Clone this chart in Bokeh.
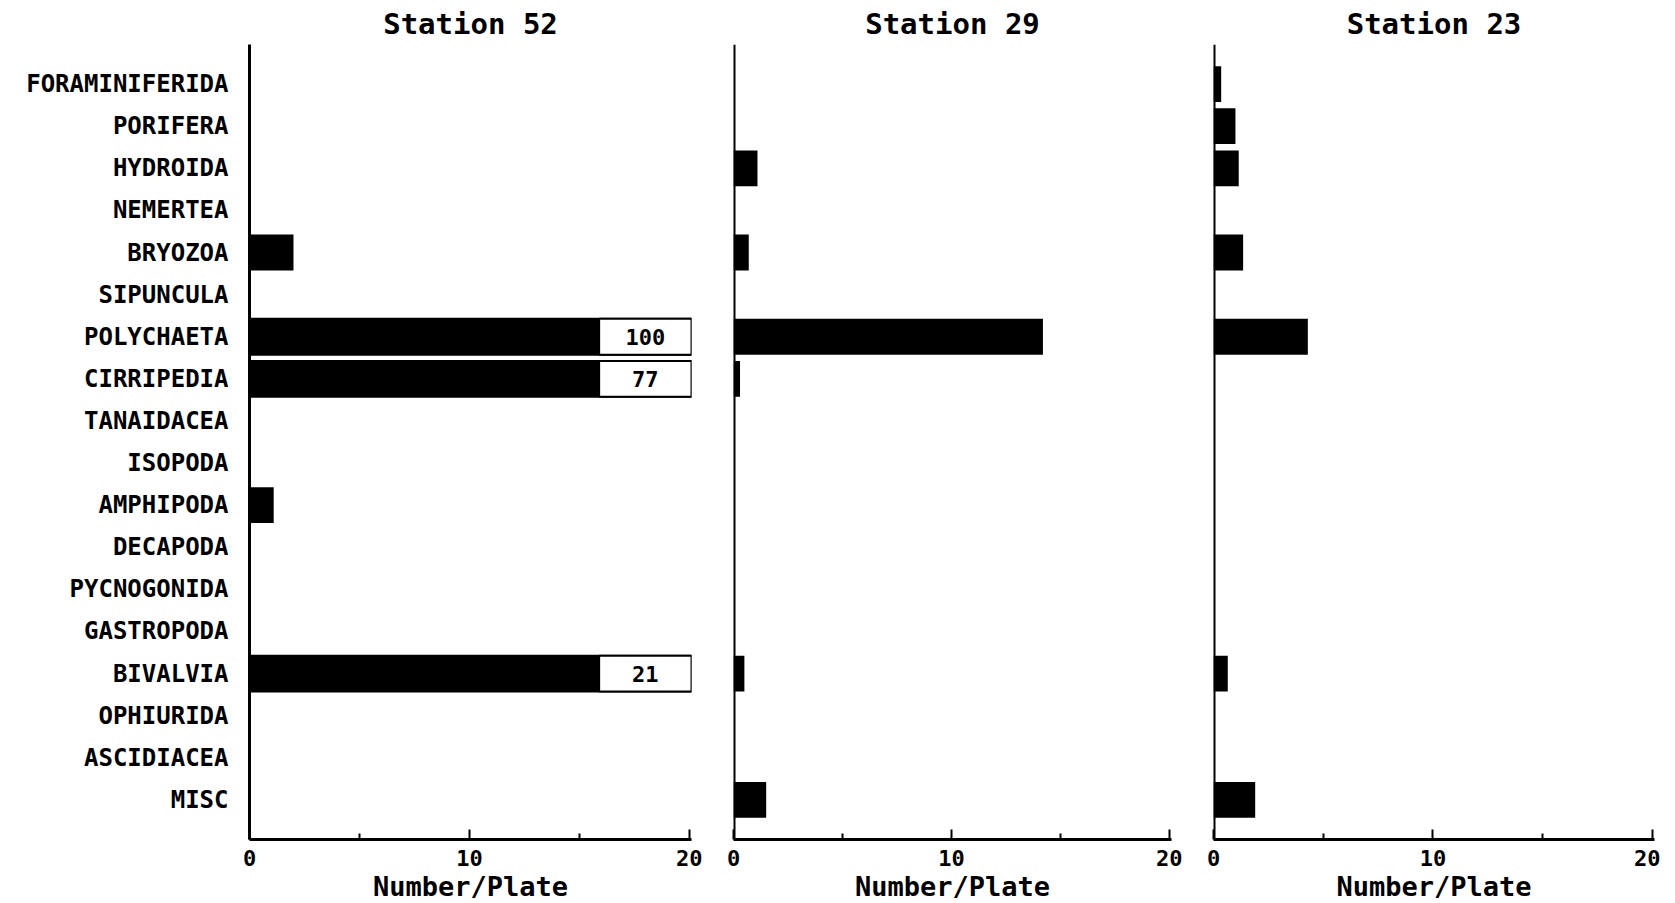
from bokeh.plotting import figure
from bokeh.layouts import row
from bokeh.models import Range1d, FactorRange, FixedTicker, Span, ColumnDataSource
from bokeh.core.properties import value
from bokeh.embed import file_html
from bokeh.resources import INLINE

categories = ["FORAMINIFERIDA", "PORIFERA", "HYDROIDA", "NEMERTEA", "BRYOZOA",
              "SIPUNCULA", "POLYCHAETA", "CIRRIPEDIA", "TANAIDACEA", "ISOPODA",
              "AMPHIPODA", "DECAPODA", "PYCNOGONIDA", "GASTROPODA", "BIVALVIA",
              "OPHIURIDA", "ASCIDIACEA", "MISC"]
station_52 = [0, 0, 0, 0, 2.0, 0, 100, 77, 0, 0, 1.1, 0, 0, 0, 21, 0, 0, 0]
station_29 = [0, 0, 1.1, 0, 0.7, 0, 14.2, 0.3, 0, 0, 0, 0, 0, 0, 0.5, 0, 0, 1.5]
station_23 = [0.35, 1.0, 1.15, 0, 1.35, 0, 4.3, 0, 0, 0, 0, 0, 0, 0, 0.65, 0, 0, 1.9]
station_titles = ["Station 52", "Station 29", "Station 23"]
x_ticks = [0, 10, 20]
x_minor_ticks = [5, 15]

AXIS_MAX = 20
X_END = 20.1
BREAK_AT = 15.9
FONT = "DejaVu Sans Mono"


def make_panel(title, vals, first, frame_w, border_l, border_r):
    p = figure(y_range=FactorRange(factors=categories[::-1], range_padding=0.44,
                                   range_padding_units="absolute"),
               x_range=Range1d(0, X_END),
               frame_width=frame_w, frame_height=795,
               min_border_left=border_l, min_border_right=border_r,
               min_border_top=43, min_border_bottom=40,
               output_backend="svg", toolbar_location=None,
               title=title)
    p.title.align = "center"
    p.title.text_font = FONT
    p.title.text_font_size = "29px"
    p.title.text_font_style = "bold"
    p.title.text_color = "black"
    p.title.standoff = 8
    p.outline_line_color = None
    p.xgrid.visible = False
    p.ygrid.visible = False

    shown = [min(v, BREAK_AT) if v > AXIS_MAX else v for v in vals]
    src = ColumnDataSource(dict(y=categories, right=shown))
    p.hbar(y="y", left=0, right="right", height=0.85, source=src,
           fill_color="black", line_color=None)

    big_y = [c for c, v in zip(categories, vals) if v > AXIS_MAX]
    big_v = [str(v) for v in vals if v > AXIS_MAX]
    if big_y:
        bsrc = ColumnDataSource(dict(y=big_y, t=big_v,
                                     xm=[(BREAK_AT + X_END) / 2] * len(big_y)))
        p.hbar(y="y", left=0, right=X_END, height=0.85, source=bsrc,
               fill_color=None, line_color="black", line_width=2)
        p.hbar(y="y", left=BREAK_AT, right=X_END, height=0.85, source=bsrc,
               fill_color="white", line_color="black", line_width=2)
        p.text(x="xm", y="y", text="t", source=bsrc, text_align="center",
               text_baseline="middle", text_font=value(FONT),
               text_font_size="22px", text_font_style="bold", text_color="black")

    xa = p.xaxis[0]
    xa.ticker = FixedTicker(ticks=x_ticks, minor_ticks=x_minor_ticks)
    xa.axis_line_width = 3
    xa.major_tick_in = 10
    xa.major_tick_out = 0
    xa.minor_tick_in = 6
    xa.minor_tick_out = 0
    xa.major_tick_line_width = 2
    xa.minor_tick_line_width = 2
    xa.major_label_text_font = FONT
    xa.major_label_text_font_size = "22px"
    xa.major_label_text_font_style = "bold"
    xa.major_label_text_color = "black"
    xa.major_label_standoff = 10
    xa.axis_label = "Number/Plate"
    xa.axis_label_text_font = FONT
    xa.axis_label_text_font_size = "27px"
    xa.axis_label_text_font_style = "bold"
    xa.axis_label_text_color = "black"
    xa.axis_label_standoff = 2

    ya = p.yaxis[0]
    if first:
        ya.axis_line_width = 3
        ya.major_tick_line_color = None
        ya.minor_tick_line_color = None
        ya.major_label_text_font = FONT
        ya.major_label_text_font_size = "24px"
        ya.major_label_text_font_style = "bold"
        ya.major_label_text_color = "black"
        ya.major_label_standoff = 15
    else:
        ya.visible = False
        p.add_layout(Span(location=0, dimension="height", line_color="black",
                          line_width=4))
    return p


p1 = make_panel(station_titles[0], station_52, True, 442, 249, 20)
p2 = make_panel(station_titles[1], station_29, False, 438, 22, 20)
p3 = make_panel(station_titles[2], station_23, False, 441, 22, 6)

layout = row(p1, p2, p3)
open("out.html", "w").write(file_html(layout, INLINE))
